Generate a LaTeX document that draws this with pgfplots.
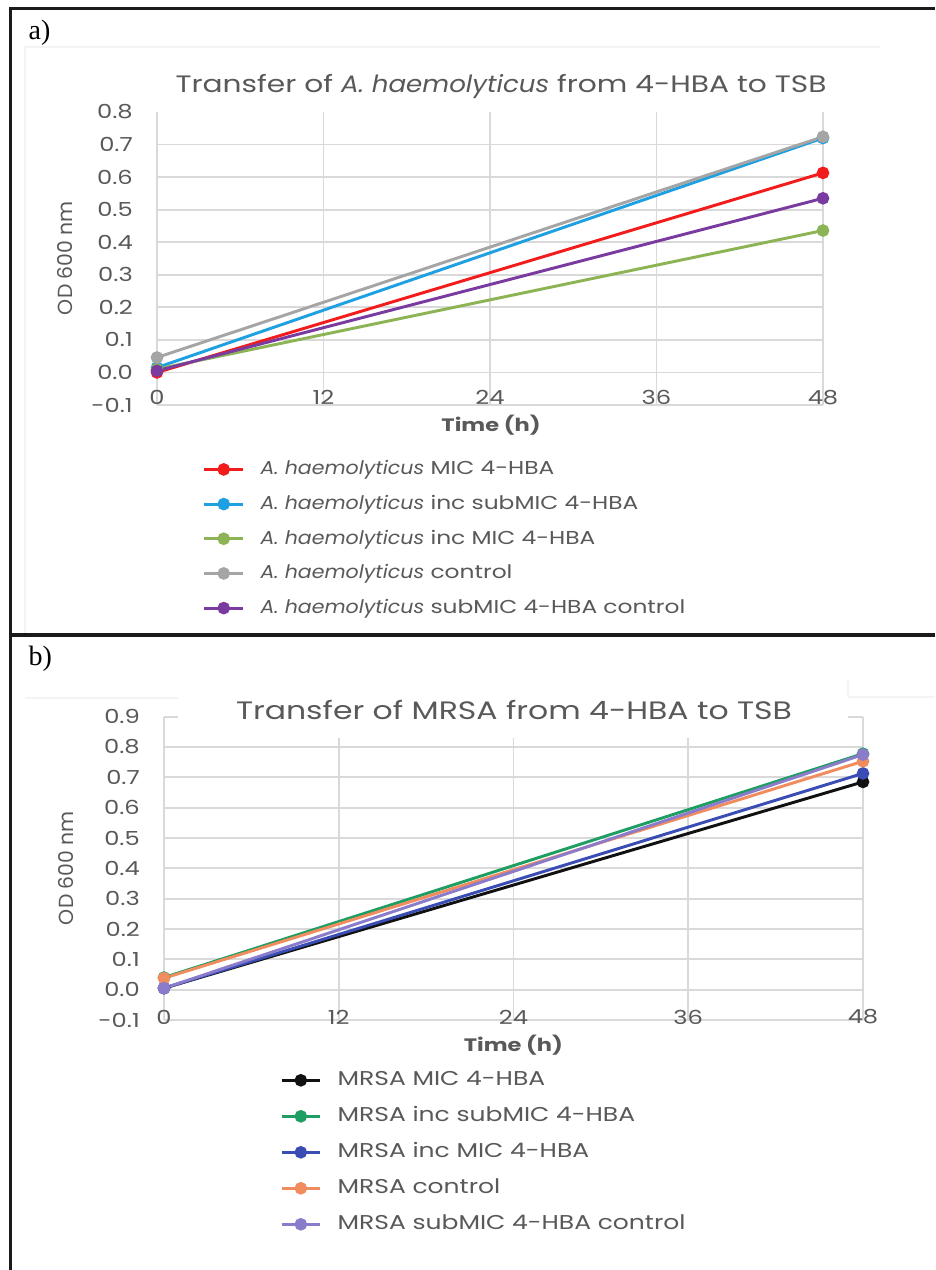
\documentclass[border=0pt]{standalone}
\usepackage{fontspec}
\setmainfont[FakeStretch=1.25, ItalicFeatures={FakeStretch=1.1}]{Poppins}
\newfontfamily\plainfont{Poppins}
\newfontfamily\serif{Liberation Serif}
\usepackage{pgfplots}
\pgfplotsset{compat=1.18}

\definecolor{txt}{HTML}{595959}
\definecolor{gridc}{HTML}{D9D9D9}
\definecolor{frame}{HTML}{1A1A1A}
\definecolor{faint}{HTML}{F4F4F4}
\definecolor{cRed}{HTML}{F21C1C}
\definecolor{cBlue}{HTML}{1FA0E2}
\definecolor{cGreen}{HTML}{8CB455}
\definecolor{cGray}{HTML}{A5A5A5}
\definecolor{cPurple}{HTML}{7A3BA0}
\definecolor{mBlack}{HTML}{111111}
\definecolor{mGreen}{HTML}{1E9E62}
\definecolor{mBlue}{HTML}{3A4DB5}
\definecolor{mOrange}{HTML}{F08C5E}
\definecolor{mPurple}{HTML}{8A7CCB}

\pgfplotsset{
  mystyle/.style={
    scale only axis,
    clip=false,
    axis line style={draw=none},
    major tick style={draw=none},
    minor tick style={draw=none},
    xmin=0, xmax=48,
    xtick={0,12,24,36,48},
    xticklabels={0,12,24,36,48},
    grid=major,
    grid style={gridc, line width=1.3pt},
    ticklabel style={text=txt, font=\fontsize{14.5}{16}\selectfont, inner sep=0pt},
    xticklabel style={anchor=center},
    yticklabel style={anchor=east, xshift=-18pt},
    every axis plot/.append style={line width=2.2pt, mark=*, mark size=3.6pt, mark options={solid}},
    legend cell align=left,
    legend style={draw=none, fill=none, inner sep=0pt, outer sep=0pt,
      anchor=north west, text=txt, column sep=12pt,
      nodes={inner sep=0pt, text height=11pt, text depth=3pt}},
    legend image code/.code={\draw[mark repeat=2,mark phase=2,##1] plot coordinates {(0pt,0pt) (14.5pt,0pt) (29pt,0pt)};},
  }
}

\begin{document}
\begin{tikzpicture}
\useasboundingbox (0pt,0pt) rectangle (701.25pt,-952.5pt);
\fill[white] (0pt,0pt) rectangle (701.25pt,-952.5pt);

% faint chart-area outlines
\draw[faint, line width=1pt] (18.75pt,-476pt) -- (18.75pt,-35.25pt) -- (660pt,-35.25pt);
\draw[faint, line width=1pt] (18.75pt,-523.5pt) -- (133.5pt,-523.5pt);
\draw[faint, line width=1pt] (636pt,-510pt) -- (636pt,-522.75pt) -- (701.25pt,-522.75pt);

% ---------- panel a ----------
\begin{axis}[mystyle,
  at={(117.75pt,-303.75pt)}, anchor=south west,
  width=499.5pt, height=219.75pt,
  ymin=-0.1, ymax=0.8,
  ytick={-0.1,0,0.1,0.2,0.3,0.4,0.5,0.6,0.7},
  yticklabels={-0.1,0.0,0.1,0.2,0.3,0.4,0.5,0.6,0.7},
  extra y ticks={0.8}, extra y tick labels={0.8},
  extra y tick style={grid=none},
  xticklabel style={yshift=5.6pt},
  legend style={at={(0.069,-0.188)}, row sep=12pt, font=\fontsize{14}{16}\selectfont},
]
\addplot[cRed] coordinates {(0,0.000) (48,0.613)};
\addlegendentry{\textit{A. haemolyticus} MIC 4-HBA}
\addplot[cBlue] coordinates {(0,0.015) (48,0.720)};
\addlegendentry{\textit{A. haemolyticus} inc subMIC 4-HBA}
\addplot[cGreen] coordinates {(0,0.010) (48,0.436)};
\addlegendentry{\textit{A. haemolyticus} inc MIC 4-HBA}
\addplot[cGray] coordinates {(0,0.046) (48,0.724)};
\addlegendentry{\textit{A. haemolyticus} control}
\addplot[cPurple] coordinates {(0,0.005) (48,0.535)};
\addlegendentry{\textit{A. haemolyticus} subMIC 4-HBA control}
\end{axis}

\node[text=txt, font=\fontsize{17.8}{21}\selectfont] at (375.75pt,-64.5pt)
  {Transfer of \textit{A. haemolyticus} from 4-HBA to TSB};
\node[text=txt, rotate=90, font=\plainfont\fontsize{15.3}{18}\selectfont] at (48.5pt,-193.5pt) {OD 600 nm};
\node[text=txt, font=\bfseries\fontsize{13.5}{15}\selectfont] at (368.25pt,-318.75pt) {Time (h)};

% ---------- panel b ----------
\begin{axis}[mystyle,
  at={(123pt,-765pt)}, anchor=south west,
  width=524.25pt, height=227.5pt,
  ymin=-0.1, ymax=0.9,
  ytick={-0.1,0,0.1,0.2,0.3,0.4,0.5,0.6,0.7,0.8},
  yticklabels={-0.1,0.0,0.1,0.2,0.3,0.4,0.5,0.6,0.7,0.8},
  extra y ticks={0.9}, extra y tick labels={0.9},
  extra y tick style={grid=major},
  xticklabel style={yshift=2.3pt},
  legend style={at={(0.166,-0.168)}, row sep=13pt, font=\fontsize{15}{17}\selectfont},
]
\addplot[mBlack] coordinates {(0,0.005) (48,0.685)};
\addlegendentry{MRSA MIC 4-HBA}
\addplot[mGreen] coordinates {(0,0.040) (48,0.778)};
\addlegendentry{MRSA inc subMIC 4-HBA}
\addplot[mBlue] coordinates {(0,0.005) (48,0.713)};
\addlegendentry{MRSA inc MIC 4-HBA}
\addplot[mOrange] coordinates {(0,0.038) (48,0.753)};
\addlegendentry{MRSA control}
\addplot[mPurple] coordinates {(0,0.005) (48,0.775)};
\addlegendentry{MRSA subMIC 4-HBA control}
\end{axis}

\fill[white] (133.5pt,-522pt) rectangle (636pt,-553.5pt);
\node[text=txt, font=\fontsize{18.9}{22}\selectfont] at (385.5pt,-532.5pt)
  {Transfer of MRSA from 4-HBA to TSB};
\node[text=txt, rotate=90, font=\plainfont\fontsize{15.3}{18}\selectfont] at (49.5pt,-651pt) {OD 600 nm};
\node[text=txt, font=\bfseries\fontsize{13.5}{15}\selectfont] at (385pt,-783.75pt) {Time (h)};

% ---------- table frame ----------
\draw[frame, line width=2.3pt] (7.9pt,-952.5pt) -- (7.9pt,-6.4pt) -- (701.25pt,-6.4pt);
\draw[frame, line width=2.3pt] (7.9pt,-476.25pt) -- (701.25pt,-476.25pt);
\node[anchor=base west, font=\serif\fontsize{21}{24}\selectfont] at (18pt,-30pt) {a)};
\node[anchor=base west, font=\serif\fontsize{21}{24}\selectfont] at (18pt,-498.75pt) {b)};
\end{tikzpicture}
\end{document}
